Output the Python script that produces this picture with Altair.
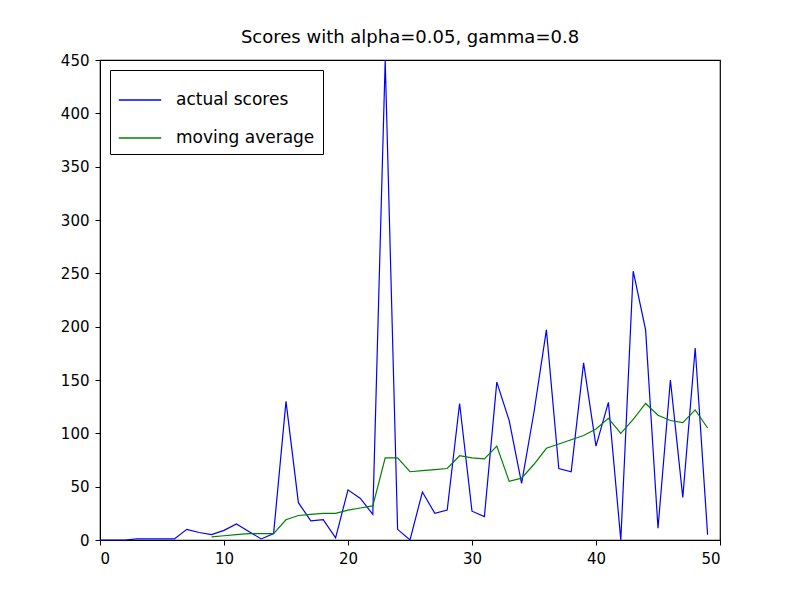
import pandas as pd
import altair as alt

episodes = list(range(50))
actual = [0, 0, 0, 1, 1, 1, 1, 10, 7, 5, 9, 15, 8, 1, 6, 130, 35, 18, 19, 2,
          47, 39, 24, 450, 10, 0, 45, 25, 28, 128, 27, 22, 148, 112, 53, 120, 197, 67, 64, 166,
          88, 129, 0, 252, 197, 11, 150, 40, 180, 5]
moving = [None] * 9 + [3, 4, 5, 6, 6, 6, 19, 23, 24, 25, 25,
          28, 30, 32, 77, 77, 64, 65, 66, 67, 79, 77, 76, 88, 55, 58, 71, 86, 90, 94, 98,
          104, 114, 100, 113, 128, 117, 112, 110, 122, 105]

df = pd.concat([
    pd.DataFrame({"x": episodes, "y": actual, "series": "actual scores"}),
    pd.DataFrame({"x": episodes, "y": moving, "series": "moving average"}).dropna(),
])

font = "DejaVu Sans"

chart = alt.Chart(df).mark_line(strokeWidth=1.2).encode(
    x=alt.X("x:Q", scale=alt.Scale(domain=[0, 50], nice=False), title=None,
            axis=alt.Axis(values=[0, 10, 20, 30, 40, 50], grid=False)),
    y=alt.Y("y:Q", scale=alt.Scale(domain=[0, 450], nice=False), title=None,
            axis=alt.Axis(values=list(range(0, 451, 50)), grid=False)),
    color=alt.Color("series:N", title=None,
                    scale=alt.Scale(domain=["actual scores", "moving average"],
                                    range=["#0000ff", "#008000"]),
                    legend=alt.Legend(orient="top-left", strokeColor="black", fillColor="white",
                                      padding=8, labelFontSize=17, labelFont=font,
                                      symbolSize=1800, symbolType="stroke", symbolStrokeWidth=1.5,
                                      labelOffset=14, offset=10, rowPadding=8)),
    order="x:Q",
).properties(
    width=620, height=480,
    title=alt.TitleParams("Scores with alpha=0.05, gamma=0.8", fontSize=18, fontWeight="normal",
                          offset=6, font=font),
    autosize=alt.AutoSizeParams(type="none"),
    padding={"left": 92, "top": 52, "right": 72, "bottom": 52},
).configure_view(stroke="black", strokeWidth=1.2).configure_axis(
    labelFontSize=15, labelFont=font, labelColor="black", domainColor="black", tickColor="black",
    labelPadding=6, tickSize=5
)

chart.save("out.html", embed_options={"renderer": "svg", "actions": False})
